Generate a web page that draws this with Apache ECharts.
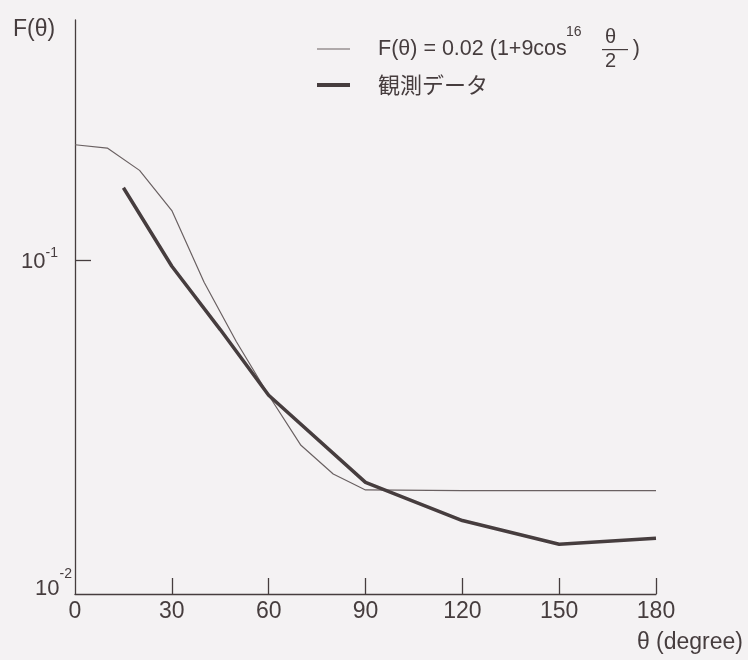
<!DOCTYPE html>
<html>
<head>
<meta charset="utf-8">
<script src="https://cdn.jsdelivr.net/npm/echarts@6/dist/echarts.min.js"></script>
<style>
  html, body { margin: 0; padding: 0; background: #f4f2f3; }
  #chart { width: 748px; height: 660px; }
</style>
</head>
<body>
<div id="chart"></div>
<script>
// theoretical curve
const modelAngles = [0, 10, 20, 30, 40, 50, 60, 70, 80, 90, 120, 150, 180];
const modelValues = [0.222, 0.217, 0.186, 0.141, 0.086, 0.057, 0.0394, 0.0279, 0.0229, 0.0205, 0.0204, 0.0204, 0.0204];

// observed data, thick line
const obsAngles = [15, 30, 45, 60, 90, 120, 150, 180];
const obsValues = [0.165, 0.096, 0.062, 0.0394, 0.0216, 0.0166, 0.0141, 0.0147];

const xTicks = [0, 30, 60, 90, 120, 150, 180];
const yLabelValues = [0.01, 0.1];
const seriesNames = ['F(θ) model', '観測データ'];

const INK = '#463d3e';
const THIN = '#6a6162';
const LATIN = "'Liberation Sans', Arial, sans-serif";
const CJK = "'Noto Sans CJK JP', sans-serif";

const pairs = (xs, ys) => xs.map((x, i) => [x, ys[i]]);

const chart = echarts.init(document.getElementById('chart'));

const option = {
  backgroundColor: '#f4f2f3',
  animation: false,
  textStyle: { fontFamily: LATIN, color: INK },
  title: {
    text: 'F(θ)',
    left: 8,
    top: 13,
    textStyle: { fontFamily: LATIN, fontSize: 23, fontWeight: 'normal', color: INK },
  },
  legend: {
    orient: 'vertical',
    left: 315,
    top: 38,
    padding: 0,
    itemWidth: 33,
    itemHeight: 14,
    itemGap: 14,
    // legend caps inherited line width at 2, so give each sample its own
    data: [
      { name: seriesNames[0], lineStyle: { width: 1.2, color: THIN } },
      { name: seriesNames[1], lineStyle: { width: 4, color: INK } },
    ],
    // hide the circle marker, keep only the line sample
    itemStyle: { opacity: 0 },
    formatter: (name) => name === seriesNames[0]
      ? '{sp|}{a|F(θ) = 0.02 (1+9cos}{g|}{a|)}'
      : '{sp|}{j|観測データ}',
    textStyle: {
      color: INK,
      rich: {
        sp: { width: 23 },
        a: { fontFamily: LATIN, fontSize: 21.5, lineHeight: 24, color: INK },
        g: { width: 66 },
        j: { fontFamily: CJK, fontSize: 22, lineHeight: 24, color: INK },
      },
    },
  },
  grid: { left: 75, right: 92, top: 20, bottom: 66 },
  xAxis: {
    type: 'value',
    min: 0,
    max: 180,
    interval: 30,
    name: 'θ (degree)',
    nameLocation: 'end',
    nameGap: 87,
    nameTextStyle: {
      fontFamily: LATIN, fontSize: 23, color: INK,
      align: 'right', verticalAlign: 'top', padding: [37, 0, 0, 0],
    },
    axisLine: { lineStyle: { color: INK, width: 1.3 } },
    axisTick: { inside: true, length: 16, customValues: xTicks.slice(1), lineStyle: { color: INK, width: 1.3 } },
    axisLabel: { fontSize: 23, color: INK, margin: 6, customValues: xTicks },
    splitLine: { show: false },
  },
  yAxis: {
    type: 'log',
    logBase: 10,
    min: 0.01,
    max: 0.525,
    axisLine: { show: true, lineStyle: { color: INK, width: 1.3 } },
    axisTick: { inside: true, length: 16, customValues: [0.1], lineStyle: { color: INK, width: 1.3 } },
    minorTick: { show: false },
    splitLine: { show: false },
    axisLabel: {
      customValues: yLabelValues,
      margin: 3,
      formatter: (v) => (v < 0.05 ? '{b2|10}{s2|-2}' : '{b1|10}{s1|-1}'),
      // bottom padding lifts a fragment by half its amount
      rich: {
        b1: { fontSize: 22, lineHeight: 24, color: INK, padding: [4, 0, 0, 0] },
        s1: { fontSize: 14, lineHeight: 14, color: INK, padding: [0, 14, 14, 0] },
        b2: { fontSize: 22, lineHeight: 24, color: INK, padding: [0, 0, 10, 0] },
        s2: { fontSize: 14, lineHeight: 14, color: INK, padding: [0, 0, 40, 0] },
      },
    },
  },
  series: [
    {
      name: seriesNames[0],
      type: 'line',
      symbol: 'none',
      lineStyle: { color: THIN, width: 1.2 },
      itemStyle: { color: THIN },
      data: pairs(modelAngles, modelValues),
    },
    {
      name: seriesNames[1],
      type: 'line',
      symbol: 'none',
      lineStyle: { color: INK, width: 3.5 },
      itemStyle: { color: INK },
      data: pairs(obsAngles, obsValues),
    },
  ],
  // superscript and the stacked θ/2 fraction of the legend formula
  graphic: [
    { type: 'text', left: 566, top: 25, style: { text: '16', font: `14px ${LATIN}`, fill: INK } },
    { type: 'text', left: 605, top: 27, style: { text: 'θ', font: `20px ${LATIN}`, fill: INK } },
    { type: 'rect', left: 602, top: 49, shape: { width: 26, height: 1.2 }, style: { fill: INK } },
    { type: 'text', left: 605, top: 51, style: { text: '2', font: `20px ${LATIN}`, fill: INK } },
  ],
};

chart.setOption(option);
</script>
</body>
</html>
